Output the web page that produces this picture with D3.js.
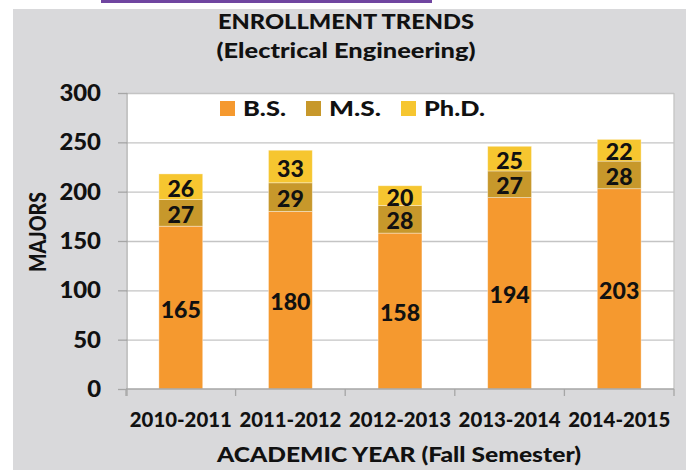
<!DOCTYPE html>
<html>
<head>
<meta charset="utf-8">
<script src="https://cdn.jsdelivr.net/npm/d3@7/dist/d3.min.js"></script>
<style>
  html, body { margin: 0; padding: 0; background: #fff; }
  svg { display: block; }
  text { font-family: Lato, "Open Sans", sans-serif; font-weight: 900; fill: #111; }
</style>
</head>
<body>
<svg id="chart" width="686" height="470"></svg>
<script>
// ---- data ----
const years = ["2010-2011", "2011-2012", "2012-2013", "2013-2014", "2014-2015"];
const bs  = [165, 180, 158, 194, 203];
const ms  = [27, 29, 28, 27, 28];
const phd = [26, 33, 20, 25, 22];
const seriesNames = ["B.S.", "M.S.", "Ph.D."];
const seriesColors = ["#f5992f", "#c7982b", "#f6c630"];
const yTicks = [0, 50, 100, 150, 200, 250, 300];
const titleLines = ["ENROLLMENT TRENDS", "(Electrical Engineering)"];
const xTitle = "ACADEMIC YEAR (Fall Semester)";
const yTitle = "MAJORS";

// ---- layout ----
const W = 686, H = 470;
const plot = { left: 126, right: 674, top: 93, bottom: 389 };
const svg = d3.select("#chart");

// horizontal stretch helpers (the reference glyphs are wider than tall)
function stretch(sel, k) {
  sel.each(function () {
    const len = this.getComputedTextLength();
    d3.select(this).attr("textLength", len * k).attr("lengthAdjust", "spacingAndGlyphs");
  });
}
function fitTo(sel, widths) {
  sel.each(function (d, i) {
    d3.select(this).attr("textLength", widths[i]).attr("lengthAdjust", "spacingAndGlyphs");
  });
}

// page decorations
svg.append("rect").attr("x", 101).attr("y", 0).attr("width", 331).attr("height", 3).attr("fill", "#7045a0");
svg.append("rect").attr("x", 13).attr("y", 9).attr("width", W - 13).attr("height", H - 9).attr("fill", "#d9d9db");
svg.append("rect").attr("x", plot.left).attr("y", plot.top)
  .attr("width", plot.right - plot.left).attr("height", plot.bottom - plot.top)
  .attr("fill", "#ffffff");

// scales
const x = d3.scaleBand().domain(years).range([plot.left, plot.right]).paddingInner(0.6).paddingOuter(0.3);
const y = d3.scaleLinear().domain([0, 300]).range([plot.bottom, plot.top]);

// gridlines
svg.append("g").attr("transform", `translate(${plot.left},0)`)
  .call(d3.axisLeft(y).tickValues(yTicks.slice(1)).tickSize(-(plot.right - plot.left)).tickFormat(""))
  .call(g => g.select(".domain").remove())
  .call(g => g.selectAll("line").attr("stroke", "#c4c4c4").attr("stroke-width", 1.3));

// plot right border
svg.append("line").attr("x1", plot.right).attr("x2", plot.right).attr("y1", plot.top).attr("y2", plot.bottom)
  .attr("stroke", "#c4c4c4").attr("stroke-width", 1.3);

// stacked data
const rows = years.map((yr, i) => ({ year: yr, "B.S.": bs[i], "M.S.": ms[i], "Ph.D.": phd[i] }));
const stack = d3.stack().keys(seriesNames)(rows);

const layers = svg.append("g").selectAll("g").data(stack).join("g")
  .attr("fill", (d, i) => seriesColors[i]);

layers.selectAll("rect").data(d => d).join("rect")
  .attr("x", d => x(d.data.year))
  .attr("width", x.bandwidth())
  .attr("y", d => y(d[1]))
  .attr("height", d => y(d[0]) - y(d[1]))
  .attr("stroke", "rgba(255,255,255,0.45)")
  .attr("stroke-width", 0.8);

// value labels
const valueLabels = layers.selectAll("text").data((d) => d.map(v => ({ v, key: d.key }))).join("text")
  .attr("x", d => x(d.v.data.year) + x.bandwidth() / 2)
  .attr("y", d => (y(d.v[0]) + y(d.v[1])) / 2 + 10)
  .attr("text-anchor", "middle")
  .attr("font-size", 22)
  .attr("fill", "#111")
  .text(d => d.v.data[d.key]);
stretch(valueLabels, 1.05);

// y axis
svg.append("g").attr("transform", `translate(${plot.left + 1},0)`)
  .call(d3.axisLeft(y).tickValues(yTicks).tickSize(9).tickPadding(17))
  .call(g => g.select(".domain").attr("d", `M-0,${plot.top}V${plot.bottom + 7}`).attr("stroke", "#a6a6a6").attr("stroke-width", 1.3))
  .call(g => g.selectAll(".tick line").attr("stroke", "#a6a6a6").attr("stroke-width", 1.3))
  .call(g => g.selectAll(".tick text").attr("font-size", 23).attr("font-family", "Lato").attr("font-weight", 900).attr("fill", "#111"))
  .call(g => stretch(g.selectAll(".tick text"), 1.04));

// x axis line + boundary ticks
svg.append("line").attr("x1", plot.left).attr("x2", plot.right).attr("y1", plot.bottom).attr("y2", plot.bottom)
  .attr("stroke", "#a6a6a6").attr("stroke-width", 1.3);
const bounds = d3.range(years.length + 1).map(i => plot.left + i * x.step());
svg.append("g").selectAll("line").data(bounds).join("line")
  .attr("x1", d => d).attr("x2", d => d).attr("y1", plot.bottom).attr("y2", plot.bottom + 7)
  .attr("stroke", "#a6a6a6").attr("stroke-width", 1.3);

// x category labels
svg.append("g").attr("transform", `translate(0,${plot.bottom})`)
  .call(d3.axisBottom(x).tickSize(0).tickPadding(0))
  .call(g => g.select(".domain").remove())
  .call(g => g.selectAll(".tick text").attr("dy", null).attr("y", 38)
    .attr("font-size", 20).attr("font-family", "Lato").attr("font-weight", 900).attr("fill", "#111"))
  .call(g => fitTo(g.selectAll(".tick text"), years.map(() => 102)));

// legend
const legendX = [220, 306, 401];
const lg = svg.append("g").selectAll("g").data(seriesNames).join("g")
  .attr("transform", (d, i) => `translate(${legendX[i]},101)`);
lg.append("rect").attr("width", 15).attr("height", 15).attr("fill", (d, i) => seriesColors[i]);
fitTo(lg.append("text").attr("x", 23).attr("y", 15).attr("font-size", 21).text(d => d), [43, 52, 61]);

// titles
fitTo(svg.append("g").selectAll("text").data(titleLines).join("text")
  .attr("x", 346).attr("y", (d, i) => 29 + i * 28.5)
  .attr("text-anchor", "middle").attr("font-size", 21).text(d => d), [256, 259]);

fitTo(svg.append("text").attr("x", 399).attr("y", 462)
  .attr("text-anchor", "middle").attr("font-size", 20).text(xTitle), [364]);

fitTo(svg.append("text").attr("transform", "translate(46,232) rotate(-90)")
  .attr("text-anchor", "middle").attr("font-size", 22).text(yTitle), [80]);
</script>
</body>
</html>
